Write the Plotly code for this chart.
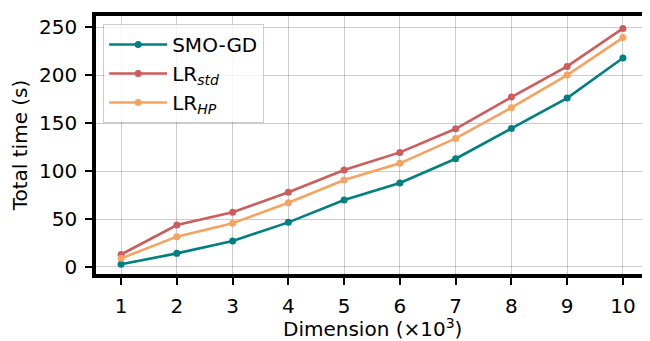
import plotly.graph_objects as go

dims = [1, 2, 3, 4, 5, 6, 7, 8, 9, 10]
smo_gd = [2.8, 14.2, 27.0, 46.5, 69.8, 87.5, 112.8, 144.4, 176.0, 217.7]
lr_std = [13.0, 43.7, 57.0, 77.8, 101.0, 119.4, 144.0, 177.0, 209.0, 248.6]
lr_hp = [9.0, 31.6, 45.5, 67.0, 90.6, 108.0, 134.0, 166.0, 200.0, 239.0]

series = [
    ("SMO-GD", smo_gd, "#008080"),
    ("LR<sub><i>std</i></sub>", lr_std, "#CD5C5C"),
    ("LR<sub><i>HP</i></sub>", lr_hp, "#F4A460"),
]

x_ticks = dims
y_ticks = [0, 50, 100, 150, 200, 250]
x_title = "Dimension (×10<sup>3</sup>)"
y_title = "Total time (s)"

fig = go.Figure()
for name, vals, col in series:
    fig.add_trace(go.Scatter(
        x=dims, y=vals, name=name, mode="lines+markers",
        line=dict(color=col, width=2.6),
        marker=dict(color=col, size=7),
    ))

font = dict(family="DejaVu Sans", size=20, color="black")
axis_common = dict(
    showline=True, mirror=True, linecolor="black", linewidth=3.5,
    ticks="outside", ticklen=7, tickwidth=1.6, tickcolor="black",
    showgrid=True, gridcolor="rgba(128,128,128,0.4)", gridwidth=1.3,
    zeroline=False, tickfont=font, automargin=False,
)

# page body has an 8px default margin, so the figure is sized to fill 650x341 from (8,8)
fig.update_layout(
    width=642, height=333,
    margin=dict(l=88, r=2, t=8, b=67, autoexpand=False),
    paper_bgcolor="white", plot_bgcolor="white",
    font=font,
    xaxis=dict(range=[0.55, 10.45], tickvals=x_ticks, ticklabelstandoff=4,
               **axis_common),
    yaxis=dict(range=[-7.3, 261.5], tickvals=y_ticks, ticklabelstandoff=4,
               title=dict(text=y_title, font=font, standoff=8),
               **axis_common),
    legend=dict(x=0.013, y=0.969, xanchor="left", yanchor="top",
                bgcolor="rgba(255,255,255,0.8)", bordercolor="rgba(0,0,0,0.2)",
                borderwidth=1, itemwidth=58,
                font=dict(family="DejaVu Sans", size=20, color="black")),
    showlegend=True,
)

fig.add_annotation(text=x_title, xref="paper", yref="paper", x=0.5, y=-0.151,
                   xanchor="center", yanchor="top", showarrow=False, font=font)

fig.write_html("out.html")
